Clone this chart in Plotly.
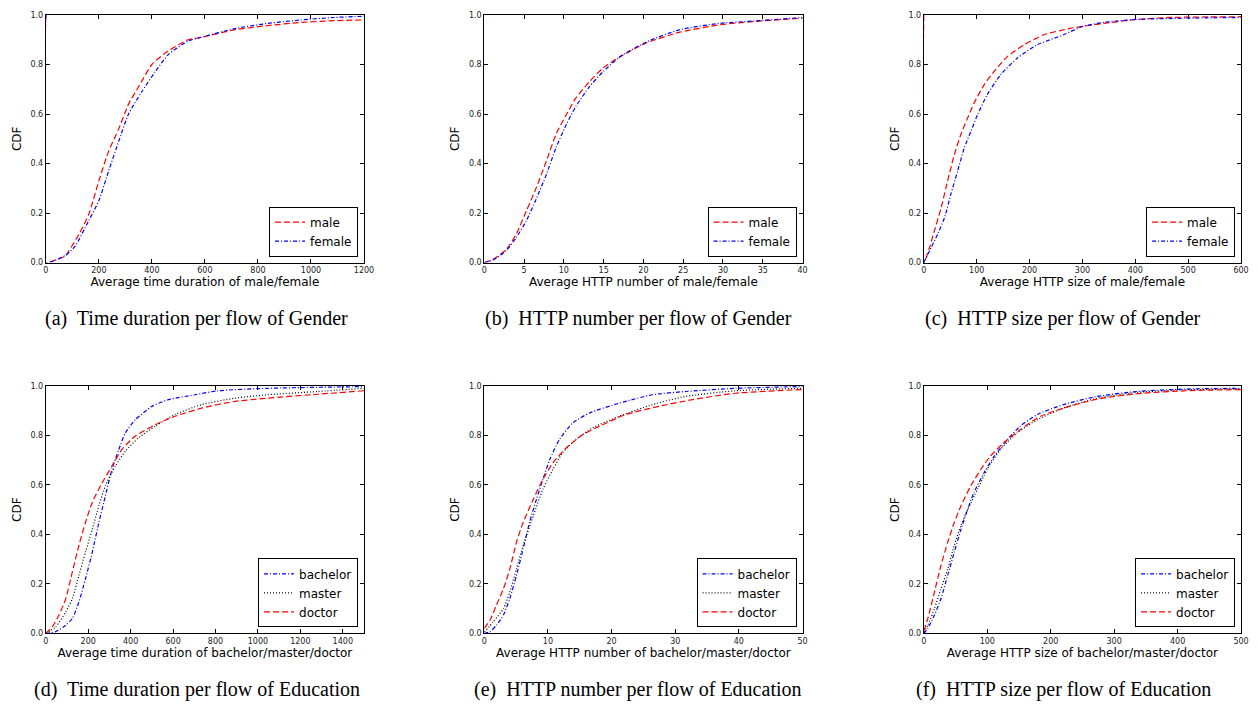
import plotly.graph_objects as go

# ---------------- data ----------------
# (a) Time duration per flow of Gender
a_male_x = [0, 0, 25, 75, 87, 125, 162, 200, 237, 275, 312, 350, 400, 450, 537, 587, 712, 837, 962, 1087, 1200]
a_male_y = [1.0, 0.0, 0.006, 0.027, 0.047, 0.114, 0.195, 0.33, 0.45, 0.54, 0.64, 0.71, 0.80, 0.846, 0.90, 0.91, 0.94, 0.957, 0.97, 0.977, 0.98]
a_female_x = [0, 0, 25, 75, 110, 162, 200, 237, 275, 312, 362, 412, 462, 537, 587, 712, 837, 962, 1087, 1200]
a_female_y = [1.0, 0.0, 0.005, 0.03, 0.065, 0.17, 0.25, 0.37, 0.49, 0.60, 0.69, 0.77, 0.84, 0.895, 0.91, 0.945, 0.966, 0.98, 0.99, 0.995]

# (b) HTTP number per flow of Gender
b_male_x = [0, 1.1, 2.8, 4.0, 5.3, 6.5, 7.8, 9.0, 10.3, 11.5, 13.2, 14.9, 17, 20.3, 24.5, 29.5, 33.6, 40]
b_male_y = [0.0, 0.013, 0.054, 0.114, 0.21, 0.30, 0.41, 0.517, 0.597, 0.664, 0.73, 0.785, 0.83, 0.886, 0.93, 0.96, 0.973, 0.987]
b_female_x = [0, 1.1, 2.8, 4.0, 5.3, 6.5, 7.8, 9.0, 10.3, 11.5, 13.2, 14.9, 17, 20.3, 24.5, 29.5, 33.6, 40]
b_female_y = [0.0, 0.01, 0.05, 0.10, 0.17, 0.255, 0.356, 0.463, 0.557, 0.63, 0.71, 0.77, 0.83, 0.89, 0.94, 0.966, 0.975, 0.99]

# (c) HTTP size per flow of Gender
c_male_x = [0, 0, 10.7, 20, 32.6, 45, 57.7, 70, 82.8, 95, 114, 133, 158, 189, 227, 277, 340, 402, 465, 600]
c_male_y = [1.0, 0.0, 0.06, 0.128, 0.22, 0.33, 0.436, 0.517, 0.584, 0.644, 0.718, 0.772, 0.832, 0.879, 0.92, 0.946, 0.966, 0.982, 0.99, 0.993]
c_female_x = [0, 13.8, 26, 39, 51, 64, 76.5, 89, 101.6, 120, 145, 177, 214, 264, 302, 340, 402, 496, 600]
c_female_y = [0.0, 0.06, 0.114, 0.18, 0.275, 0.37, 0.463, 0.53, 0.597, 0.678, 0.758, 0.826, 0.879, 0.92, 0.955, 0.97, 0.982, 0.987, 0.99]

# (d) Time duration per flow of Education
d_bachelor_x = [0, 47, 94, 125, 156, 187, 219, 250, 281, 312, 344, 375, 422, 500, 578, 703, 812, 1047, 1500]
d_bachelor_y = [0.0, 0.007, 0.033, 0.06, 0.127, 0.22, 0.328, 0.448, 0.556, 0.663, 0.743, 0.81, 0.863, 0.917, 0.944, 0.964, 0.98, 0.99, 0.997]
d_master_x = [0, 47, 94, 125, 156, 187, 219, 250, 281, 328, 375, 437, 516, 609, 734, 891, 1047, 1281, 1500]
d_master_y = [0.0, 0.027, 0.087, 0.14, 0.234, 0.328, 0.42, 0.515, 0.596, 0.676, 0.736, 0.79, 0.837, 0.884, 0.924, 0.95, 0.964, 0.977, 0.99]
d_doctor_x = [0, 31, 62, 94, 125, 156, 187, 219, 266, 312, 359, 422, 516, 609, 734, 891, 1047, 1281, 1500]
d_doctor_y = [0.0, 0.027, 0.074, 0.14, 0.248, 0.355, 0.448, 0.529, 0.609, 0.676, 0.743, 0.797, 0.843, 0.877, 0.91, 0.937, 0.95, 0.966, 0.98]

# (e) HTTP number per flow of Education
e_bachelor_x = [0, 0.9, 1.9, 3.0, 4.0, 5.05, 6.1, 7.1, 8.2, 9.2, 10.3, 11.8, 13.9, 16.5, 21.2, 26.4, 31.6, 39.4, 50]
e_bachelor_y = [0.0, 0.007, 0.033, 0.074, 0.14, 0.234, 0.341, 0.448, 0.542, 0.622, 0.703, 0.783, 0.85, 0.89, 0.93, 0.964, 0.977, 0.99, 0.997]
e_master_x = [0, 1.4, 3.0, 4.0, 5.05, 6.1, 7.7, 9.2, 10.8, 12.3, 14.4, 17, 21.2, 26.4, 31.6, 39.4, 50]
e_master_y = [0.005, 0.047, 0.10, 0.167, 0.26, 0.355, 0.475, 0.582, 0.663, 0.73, 0.783, 0.83, 0.877, 0.924, 0.957, 0.98, 0.99]
e_doctor_x = [0, 0.9, 1.9, 3.0, 4.0, 5.05, 6.1, 7.7, 9.2, 10.8, 12.9, 15.5, 18.6, 22.2, 27.4, 32.7, 39.4, 50]
e_doctor_y = [0.02, 0.054, 0.114, 0.18, 0.26, 0.368, 0.448, 0.542, 0.622, 0.69, 0.75, 0.803, 0.843, 0.884, 0.917, 0.944, 0.97, 0.985]

# (f) HTTP size per flow of Education
f_bachelor_x = [0, 6.3, 16.7, 27, 37.6, 48, 58.5, 69, 79, 95, 111, 132, 152, 179, 220, 273, 335, 414, 500]
f_bachelor_y = [0.0, 0.02, 0.074, 0.14, 0.234, 0.328, 0.42, 0.5, 0.569, 0.649, 0.716, 0.783, 0.837, 0.884, 0.924, 0.957, 0.977, 0.987, 0.99]
f_master_x = [0, 6.3, 16.7, 27, 37.6, 48, 58.5, 69, 84.6, 100, 121, 147, 179, 220, 273, 335, 414, 500]
f_master_y = [0.005, 0.033, 0.10, 0.18, 0.26, 0.355, 0.435, 0.5, 0.582, 0.663, 0.743, 0.81, 0.863, 0.91, 0.95, 0.973, 0.984, 0.987]
f_doctor_x = [0, 6.3, 16.7, 27, 37.6, 48, 58.5, 74, 90, 105, 126, 152, 184, 220, 273, 335, 414, 500]
f_doctor_y = [0.01, 0.06, 0.167, 0.274, 0.368, 0.448, 0.515, 0.596, 0.663, 0.716, 0.77, 0.823, 0.877, 0.91, 0.946, 0.968, 0.98, 0.985]

x_titles = [
    "Average time duration of male/female",
    "Average HTTP number of male/female",
    "Average HTTP size of male/female",
    "Average time duration of bachelor/master/doctor",
    "Average HTTP number of bachelor/master/doctor",
    "Average HTTP size of bachelor/master/doctor",
]
captions = [
    "(a)  Time duration per flow of Gender",
    "(b)  HTTP number per flow of Gender",
    "(c)  HTTP size per flow of Gender",
    "(d)  Time duration per flow of Education",
    "(e)  HTTP number per flow of Education",
    "(f)  HTTP size per flow of Education",
]
x_ranges = [[0, 1200], [0, 40], [0, 600], [0, 1500], [0, 50], [0, 500]]
x_dticks = [200, 5, 100, 200, 10, 100]

# ---------------- layout geometry (pixels, in the 1258x704 page) ----------------
PAGE_W, PAGE_H = 1258, 704
OFF = 8                      # default body margin of the page
W, H = PAGE_W - OFF, PAGE_H - OFF
ML, MR, MT, MB = 2, 8, 4, 5  # outer margins of the plotting area
col_px = [(43, 363), (484, 804), (926, 1245)]
row_px = [(13, 262), (386, 635)]
caption_cx = [195, 639, 1066]
caption_cy = [318, 691]


def px_x(p):
    return (p - OFF - ML) / (W - ML - MR)


def px_y(p):
    return 1 - (p - OFF - MT) / (H - MT - MB)


styles = {
    "male": dict(color="#ff0000", dash="6px,3px"),
    "female": dict(color="#0000ff", dash="4px,2px,1px,2px"),
    "bachelor": dict(color="#0000ff", dash="4px,2px,1px,2px"),
    "master": dict(color="#000000", dash="1px,2px"),
    "doctor": dict(color="#ff0000", dash="6px,3px"),
}

panels = [
    [("male", a_male_x, a_male_y), ("female", a_female_x, a_female_y)],
    [("male", b_male_x, b_male_y), ("female", b_female_x, b_female_y)],
    [("male", c_male_x, c_male_y), ("female", c_female_x, c_female_y)],
    [("bachelor", d_bachelor_x, d_bachelor_y), ("master", d_master_x, d_master_y), ("doctor", d_doctor_x, d_doctor_y)],
    [("bachelor", e_bachelor_x, e_bachelor_y), ("master", e_master_x, e_master_y), ("doctor", e_doctor_x, e_doctor_y)],
    [("bachelor", f_bachelor_x, f_bachelor_y), ("master", f_master_x, f_master_y), ("doctor", f_doctor_x, f_doctor_y)],
]

fig = go.Figure()
layout = dict(
    width=W, height=H,
    margin=dict(l=ML, r=MR, t=MT, b=MB),
    paper_bgcolor="white", plot_bgcolor="white",
    font=dict(family="DejaVu Sans", color="black"),
    annotations=[],
)

for i, series in enumerate(panels):
    r, c = divmod(i, 3)
    n = i + 1
    xa = "x" if n == 1 else f"x{n}"
    ya = "y" if n == 1 else f"y{n}"
    lg = "legend" if n == 1 else f"legend{n}"
    x0, x1 = col_px[c]
    y0, y1 = row_px[r]
    axis_common = dict(
        showline=True, linecolor="black", linewidth=1, mirror="ticks",
        ticks="inside", ticklen=4, tickcolor="black", automargin=True,
        showgrid=False, zeroline=False, layer="below traces",
        tickfont=dict(size=8, family="DejaVu Sans", color="#222"),
    )
    layout["xaxis" if n == 1 else f"xaxis{n}"] = dict(
        domain=[px_x(x0), px_x(x1)], anchor=ya, range=x_ranges[i],
        dtick=x_dticks[i], tick0=0,
        title=dict(text=x_titles[i], font=dict(size=12, color="black"), standoff=3),
        **axis_common,
    )
    layout["yaxis" if n == 1 else f"yaxis{n}"] = dict(
        domain=[px_y(y1), px_y(y0)], anchor=xa, range=[0, 1],
        dtick=0.2, tick0=0, tickformat=".1f",
        title=dict(text="CDF", font=dict(size=12, color="black"), standoff=6),
        **axis_common,
    )
    layout[lg] = dict(
        x=px_x(x1 - 6), y=px_y(y1 - 6), xanchor="right", yanchor="bottom",
        bordercolor="black", borderwidth=1, bgcolor="white",
        font=dict(size=12, family="DejaVu Sans", color="black"),
        tracegroupgap=0, itemwidth=30,
    )
    for name, xs, ys in series:
        st = styles[name]
        fig.add_trace(go.Scatter(
            x=xs, y=ys, mode="lines", name=name, xaxis=xa, yaxis=ya, legend=lg,
            line=dict(color=st["color"], dash=st["dash"], width=1.2, shape="spline", smoothing=0.6),
        ))
    layout["annotations"].append(dict(
        text=captions[i], xref="paper", yref="paper",
        x=px_x(caption_cx[c]), y=px_y(caption_cy[r]),
        xanchor="center", yanchor="middle", showarrow=False,
        font=dict(family="Liberation Serif", size=20, color="black"),
    ))

fig.update_layout(**layout)

# one full re-plot after the first render (a tiny margin change) so that the
# legend line samples are drawn with their trace colours
post = (
    "var gd = document.getElementById('{plot_id}');"
    "Plotly.relayout(gd, {'margin.l': %s});" % (ML + 0.01)
)
fig.write_html("out.html", post_script=post)
